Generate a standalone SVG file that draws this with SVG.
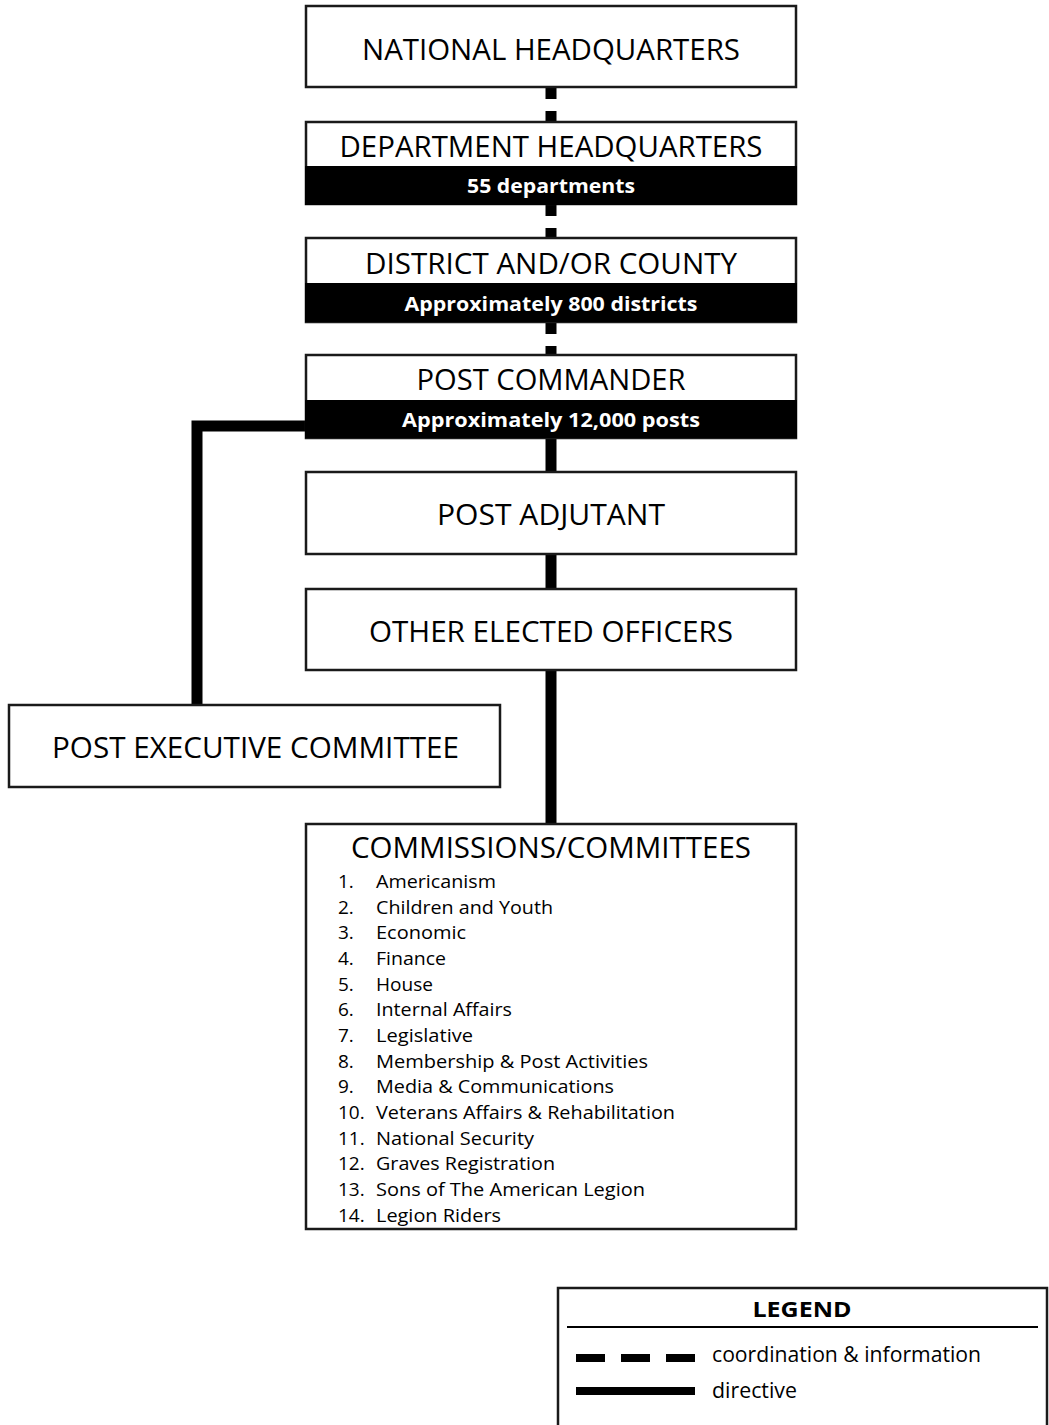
<svg xmlns="http://www.w3.org/2000/svg" width="1049" height="1425" viewBox="0 0 1049 1425">
<style>
.box{fill:#fff;stroke:#1a1a1a;stroke-width:2.5}
.band{fill:#000}
.h{font-family:"Open Sans","Liberation Sans",sans-serif;font-size:30px;fill:#000;text-anchor:middle}
.sub{font-family:"Open Sans","Liberation Sans",sans-serif;font-size:20px;font-weight:bold;fill:#fff;text-anchor:middle}
.li{font-family:"Open Sans","Liberation Sans",sans-serif;font-size:19px;fill:#000}
.lg{font-family:"Open Sans","Liberation Sans",sans-serif;font-size:21px;fill:#000}
.dash{stroke:#000;stroke-width:11;stroke-dasharray:12 12;fill:none}
.solid{stroke:#000;stroke-width:11;fill:none}
</style>
<rect width="1049" height="1425" fill="#fff"/>
<g id="connectors">
<line class="dash" x1="551" y1="87" x2="551" y2="123"/>
<line class="dash" x1="551" y1="204" x2="551" y2="239"/>
<line class="dash" x1="551" y1="322" x2="551" y2="356"/>
<line class="solid" x1="551" y1="438" x2="551" y2="473"/>
<line class="solid" x1="551" y1="554" x2="551" y2="590"/>
<line class="solid" x1="551" y1="670" x2="551" y2="825"/>
<path class="solid" d="M306,426 H197 V706"/>
</g>
<g id="national">
<rect class="box" x="306" y="6" width="490" height="81"/>
<text class="h" x="551" y="60" textLength="378" lengthAdjust="spacingAndGlyphs">NATIONAL HEADQUARTERS</text>
</g>
<g id="department">
<rect class="box" x="306" y="122" width="490" height="82"/>
<rect class="band" x="305" y="166" width="492" height="39"/>
<text class="h" x="551" y="157" textLength="423" lengthAdjust="spacingAndGlyphs">DEPARTMENT HEADQUARTERS</text>
<text class="sub" x="551" y="193" textLength="168" lengthAdjust="spacingAndGlyphs">55 departments</text>
</g>
<g id="district">
<rect class="box" x="306" y="238" width="490" height="84"/>
<rect class="band" x="305" y="283" width="492" height="39"/>
<text class="h" x="551" y="274" textLength="372" lengthAdjust="spacingAndGlyphs">DISTRICT AND/OR COUNTY</text>
<text class="sub" x="551" y="311" textLength="293" lengthAdjust="spacingAndGlyphs">Approximately 800 districts</text>
</g>
<g id="post-commander">
<rect class="box" x="306" y="355" width="490" height="83"/>
<rect class="band" x="305" y="400" width="492" height="38"/>
<text class="h" x="551" y="390" textLength="269" lengthAdjust="spacingAndGlyphs">POST COMMANDER</text>
<text class="sub" x="551" y="427" textLength="298" lengthAdjust="spacingAndGlyphs">Approximately 12,000 posts</text>
</g>
<g id="post-adjutant">
<rect class="box" x="306" y="472" width="490" height="82"/>
<text class="h" x="551" y="525" textLength="228" lengthAdjust="spacingAndGlyphs">POST ADJUTANT</text>
</g>
<g id="other-officers">
<rect class="box" x="306" y="589" width="490" height="81"/>
<text class="h" x="551" y="642" textLength="364" lengthAdjust="spacingAndGlyphs">OTHER ELECTED OFFICERS</text>
</g>
<g id="post-executive">
<rect class="box" x="9" y="705" width="491" height="82"/>
<text class="h" x="255.5" y="758" textLength="407" lengthAdjust="spacingAndGlyphs">POST EXECUTIVE COMMITTEE</text>
</g>
<g id="commissions">
<rect class="box" x="306" y="824" width="490" height="405"/>
<text class="h" x="551" y="858" textLength="400" lengthAdjust="spacingAndGlyphs">COMMISSIONS/COMMITTEES</text>
<g class="li">
<text x="338" y="888">1.</text><text x="376" y="888" textLength="120" lengthAdjust="spacingAndGlyphs">Americanism</text>
<text x="338" y="914">2.</text><text x="376" y="914" textLength="177" lengthAdjust="spacingAndGlyphs">Children and Youth</text>
<text x="338" y="939">3.</text><text x="376" y="939" textLength="90" lengthAdjust="spacingAndGlyphs">Economic</text>
<text x="338" y="965">4.</text><text x="376" y="965" textLength="70" lengthAdjust="spacingAndGlyphs">Finance</text>
<text x="338" y="991">5.</text><text x="376" y="991" textLength="57" lengthAdjust="spacingAndGlyphs">House</text>
<text x="338" y="1016">6.</text><text x="376" y="1016" textLength="136" lengthAdjust="spacingAndGlyphs">Internal Affairs</text>
<text x="338" y="1042">7.</text><text x="376" y="1042" textLength="97" lengthAdjust="spacingAndGlyphs">Legislative</text>
<text x="338" y="1068">8.</text><text x="376" y="1068" textLength="272" lengthAdjust="spacingAndGlyphs">Membership &amp; Post Activities</text>
<text x="338" y="1093">9.</text><text x="376" y="1093" textLength="238" lengthAdjust="spacingAndGlyphs">Media &amp; Communications</text>
<text x="338" y="1119">10.</text><text x="376" y="1119" textLength="299" lengthAdjust="spacingAndGlyphs">Veterans Affairs &amp; Rehabilitation</text>
<text x="338" y="1145">11.</text><text x="376" y="1145" textLength="158" lengthAdjust="spacingAndGlyphs">National Security</text>
<text x="338" y="1170">12.</text><text x="376" y="1170" textLength="179" lengthAdjust="spacingAndGlyphs">Graves Registration</text>
<text x="338" y="1196">13.</text><text x="376" y="1196" textLength="269" lengthAdjust="spacingAndGlyphs">Sons of The American Legion</text>
<text x="338" y="1222">14.</text><text x="376" y="1222" textLength="125" lengthAdjust="spacingAndGlyphs">Legion Riders</text>
</g>
</g>
<g id="legend">
<rect class="box" x="558" y="1288" width="489" height="150"/>
<text x="802" y="1317" font-family="'Open Sans','Liberation Sans',sans-serif" font-size="21" font-weight="bold" text-anchor="middle" textLength="99" lengthAdjust="spacingAndGlyphs">LEGEND</text>
<line x1="567" y1="1327" x2="1038" y2="1327" stroke="#000" stroke-width="2"/>
<rect x="576" y="1354" width="29" height="8" fill="#000"/>
<rect x="621" y="1354" width="29" height="8" fill="#000"/>
<rect x="666" y="1354" width="29" height="8" fill="#000"/>
<rect x="576" y="1387" width="119" height="8" fill="#000"/>
<text class="lg" x="712" y="1362" textLength="269" lengthAdjust="spacingAndGlyphs">coordination &amp; information</text>
<text class="lg" x="712" y="1398" textLength="85" lengthAdjust="spacingAndGlyphs">directive</text>
</g>
</svg>
